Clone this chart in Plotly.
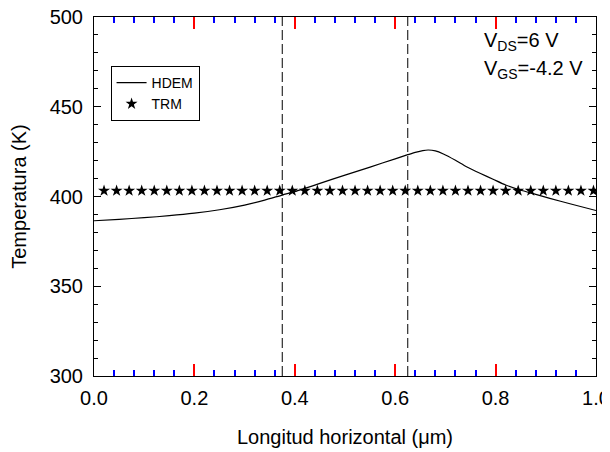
import plotly.graph_objects as go

# HDEM curve
hdem_x = [0.0, 0.05, 0.10, 0.15, 0.20, 0.25, 0.30, 0.34, 0.375, 0.40, 0.42, 0.45, 0.50, 0.55,
          0.60, 0.625, 0.64, 0.655, 0.666, 0.68, 0.696, 0.72, 0.742, 0.77, 0.795, 0.82, 0.849,
          0.88, 0.908, 0.95, 1.0]
hdem_y = [386.5, 387.3, 388.2, 389.3, 390.7, 392.6, 395.2, 398.0, 400.8, 402.7, 404.5, 407.3,
          411.9, 416.4, 421.0, 423.3, 424.6, 425.6, 425.9, 425.4, 423.7, 420.2, 416.6, 412.8,
          409.6, 406.4, 403.6, 401.2, 399.0, 395.8, 392.2]

# TRM points
trm_x = [0.020, 0.045, 0.070, 0.095, 0.120, 0.145, 0.170, 0.195, 0.220, 0.245,
         0.270, 0.295, 0.320, 0.345, 0.370, 0.395, 0.420, 0.445, 0.470, 0.495,
         0.520, 0.545, 0.570, 0.595, 0.620, 0.645, 0.670, 0.695, 0.720, 0.745,
         0.770, 0.795, 0.820, 0.845, 0.870, 0.895, 0.920, 0.945, 0.970, 0.995]
trm_y = [403.2] * len(trm_x)

# dashed vertical markers
dash_x = [0.375, 0.625]
y_range = [300, 500]
x_range = [0.0, 1.0]

FONT = "Liberation Sans, Arial, Helvetica, sans-serif"

fig = go.Figure()
fig.add_trace(go.Scatter(x=hdem_x, y=hdem_y, mode="lines", name="HDEM",
                         line=dict(color="black", width=1.2, shape="spline", smoothing=0.6)))
fig.add_trace(go.Scatter(x=trm_x, y=trm_y, mode="markers", name="TRM",
                         marker=dict(symbol="star", size=9, color="black",
                                     line=dict(width=0))))

for xv in dash_x:
    fig.add_shape(type="line", xref="x", yref="y", x0=xv, x1=xv, y0=y_range[0], y1=y_range[1],
                  line=dict(color="black", width=1, dash="10px,4px"))

fig.update_xaxes(range=x_range, showline=True, linecolor="black", mirror="allticks",
                 ticks="inside", ticklen=12, tickcolor="red", tickwidth=2, showgrid=False,
                 tickformat=".1f", ticklabelstandoff=4,
                 automargin=False, ticklabeloverflow="allow",
                 tickfont=dict(size=20, color="black", family=FONT),
                 title=dict(text="Longitud horizontal (μm)", font=dict(size=20, family=FONT, color="black"),
                            standoff=21),
                 minor=dict(ticks="inside", ticklen=6, tickcolor="blue", dtick=0.04))
fig.update_yaxes(range=y_range, showline=True, linecolor="black", mirror="allticks",
                 ticks="inside", ticklen=7, tickcolor="black", tickwidth=1, showgrid=False,
                 ticklabelstandoff=6,
                 automargin=False, ticklabeloverflow="allow",
                 tickfont=dict(size=20, color="black", family=FONT),
                 title=dict(text="Temperatura (K)", font=dict(size=20, family=FONT, color="black"),
                            standoff=17),
                 minor=dict(ticks="inside", ticklen=4, tickcolor="black", dtick=10))

fig.add_annotation(x=0.772, y=0.931, xref="paper", yref="paper", xanchor="left", yanchor="middle",
                   text="V<sub>DS</sub>=6 V", showarrow=False,
                   font=dict(size=20, family=FONT, color="black"))
fig.add_annotation(x=0.772, y=0.853, xref="paper", yref="paper", xanchor="left", yanchor="middle",
                   text="V<sub>GS</sub>=-4.2 V", showarrow=False,
                   font=dict(size=20, family=FONT, color="black"))

fig.update_layout(
    width=602, height=444,
    margin=dict(l=86, r=14, t=9, b=76, autoexpand=False),
    plot_bgcolor="white",
    font=dict(family=FONT, color="black"),
    showlegend=True,
    legend=dict(x=0.033, y=0.8635, xanchor="left", yanchor="top",
                bordercolor="black", borderwidth=1, bgcolor="white",
                font=dict(size=14, family=FONT, color="black"),
                itemwidth=30, tracegroupgap=2),
)

fig.write_html("out.html")
